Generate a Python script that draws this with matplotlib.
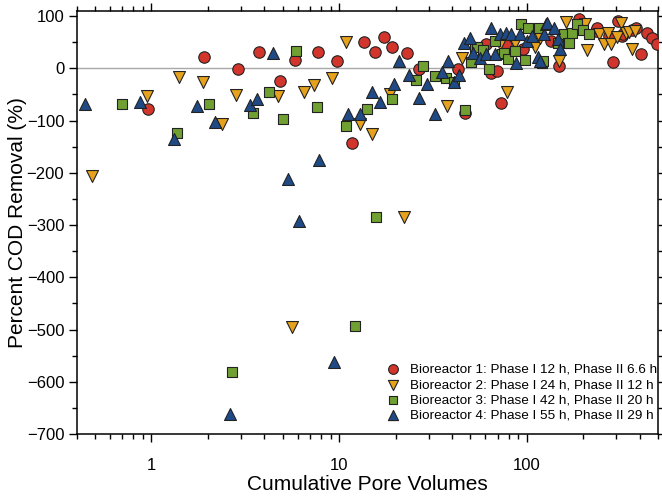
import matplotlib
matplotlib.use("Agg")
import matplotlib.pyplot as plt
from matplotlib.ticker import FixedLocator, LogLocator, NullFormatter

plt.rcParams['font.family'] = ['Liberation Sans', 'DejaVu Sans']

# Bioreactor 1 (Phase I 12 h, Phase II 6.6 h)
x1 = [0.96, 1.91, 2.90, 3.75, 4.84, 5.81, 7.73, 9.69, 11.7, 13.6, 15.5, 17.3, 19.2, 23.0,
      26.7, 43, 47, 60.8, 64.7, 69.2, 73.1, 77, 95.5, 134, 149, 190, 233, 236, 275, 289,
      305, 323, 327, 365, 383, 405, 438, 467, 495]
y1 = [-78, 22, -1, 31, -25, 16, 31, 15, -143, 50, 31, 60, 40, 30,
      -1, -2, -86, 46, -8, -5, -66, 44, 38, 52, 4, 95, 71, 78, 62, 13,
      90, 62, 65, 73, 78, 27, 67, 59, 46]

# Bioreactor 2 (Phase I 24 h, Phase II 12 h)
x2 = [0.48, 0.945, 1.41, 1.88, 2.37, 2.81, 4.70, 5.58, 6.49, 7.36, 9.12, 10.9, 12.9, 14.9,
      18.6, 22.1, 37.5, 45.3, 72, 78.3, 86, 110, 118, 148, 161, 204, 208, 242, 259, 270,
      280, 301, 317, 338, 352, 362, 376]
y2 = [-206, -53, -17, -27, -107, -51, -53, -496, -46, -32, -19, 51, -106, -126,
      -50, -285, -72, 19, 46, -46, 49, 41, 59, 14, 89, 84, 35, 65, 46, 67,
      46, 61, 86, 67, 69, 38, 71]

# Bioreactor 3 (Phase I 42 h, Phase II 20 h)
x3 = [0.70, 1.36, 2.03, 2.70, 3.46, 4.23, 5.0, 5.88, 7.59, 10.9, 12.2, 14.0, 15.7, 19.2,
      25.8, 27.8, 32.3, 37, 41, 46.6, 50.6, 53, 54.2, 58.4, 62.8, 67.3, 74, 76, 79, 86.9,
      93.4, 97.3, 102, 115.5, 121, 122, 146, 157, 158, 165, 167, 175, 185, 198, 215]
y3 = [-67.5, -123, -67.5, -581, -85, -46, -96, 33, -74, -110, -493, -78, -285, -58,
      -23, 4, -15, -18, -26, -80, 12, 40, 41, 36, -1, 52, 27, 30, 17, 33,
      84, 16, 78, 78, 11, 14, 49, 62, 65, 49, 49, 67, 84, 73, 65]

# Bioreactor 4 (Phase I 55 h, Phase II 29 h)
x4 = [0.44, 0.87, 1.32, 1.74, 2.18, 2.62, 3.35, 3.66, 4.42, 5.32, 6.13, 7.77, 9.37, 11.2,
      12.9, 14.9, 16.6, 19.6, 20.9, 23.6, 26.7, 29.5, 32.4, 35.1, 38, 41, 43.6, 46.2, 49.6,
      51.5, 56, 60.8, 64.7, 68, 71.6, 77, 82.6, 87.1, 91.5, 100, 107, 114, 117, 124, 126,
      128, 139, 146, 150]
y4 = [-67.5, -64, -136, -72, -103, -662, -71, -59, 30, -211, -293, -175, -563, -87,
      -87, -45, -64, -29, 14, -12, -56, -29, -87, -7, 15, -26, -12, 49, 59,
      30, 20, 27, 78, 27, 65, 68, 65, 11, 65, 52, 62, 22, 14, 65, 84,
      86, 78, 57, 38]

labels = ["Bioreactor 1: Phase I 12 h, Phase II 6.6 h",
          "Bioreactor 2: Phase I 24 h, Phase II 12 h",
          "Bioreactor 3: Phase I 42 h, Phase II 20 h",
          "Bioreactor 4: Phase I 55 h, Phase II 29 h"]

fig = plt.figure(figsize=(6.62, 4.96), dpi=100)
ax = fig.add_axes([0.116, 0.125, 0.878, 0.853])

ax.axhline(0, color="#a8a8a8", lw=1.0, zorder=1)

ax.scatter(x1, y1, s=68, marker="o", c="#d2352b", edgecolors="#222222", linewidths=0.8, label=labels[0], zorder=3)
ax.scatter(x2, y2, s=74, marker="v", c="#e6a21c", edgecolors="#222222", linewidths=0.8, label=labels[1], zorder=3)
ax.scatter(x3, y3, s=58, marker="s", c="#71a032", edgecolors="#222222", linewidths=0.8, label=labels[2], zorder=3)
ax.scatter(x4, y4, s=74, marker="^", c="#1f4a86", edgecolors="#222222", linewidths=0.8, label=labels[3], zorder=3)

ax.set_xscale("log")
ax.set_xlim(0.4, 500)
ax.set_ylim(-700, 110)
ax.set_xticks([1, 10, 100])
ax.set_xticklabels(["1", "10", "100"])
ax.xaxis.set_minor_locator(LogLocator(base=10, subs=range(2, 10)))
ax.xaxis.set_minor_formatter(NullFormatter())
ax.set_yticks(range(-700, 101, 100))
ax.yaxis.set_minor_locator(FixedLocator(range(-650, 101, 100)))

ax.tick_params(which="both", direction="out", top=True, right=True, labelsize=12, width=1)
ax.tick_params(which="major", length=6, pad=3)
ax.tick_params(axis="x", which="major", pad=11)
ax.tick_params(which="minor", length=3.5)
for sp in ax.spines.values():
    sp.set_linewidth(1.1)

ax.set_xlabel("Cumulative Pore Volumes", fontsize=15, labelpad=2)
ax.set_ylabel("Percent COD Removal (%)", fontsize=15, labelpad=0)

ax.legend(loc="lower right", bbox_to_anchor=(1.02, 0.0), frameon=False, fontsize=9.7,
          handletextpad=0.7, labelspacing=0.22, borderaxespad=0.0, borderpad=0.9,
          scatterpoints=1, handlelength=1.2, markerscale=0.85)

fig.savefig("out.png", dpi=100)
